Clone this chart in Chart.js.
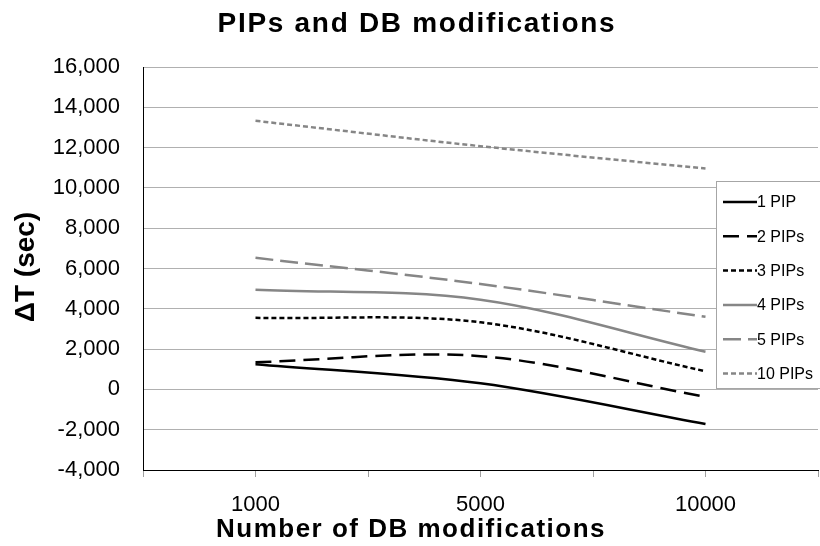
<!DOCTYPE html>
<html>
<head>
<meta charset="utf-8">
<title>PIPs and DB modifications</title>
<script src="https://cdn.jsdelivr.net/npm/chart.js@4.4.1/dist/chart.umd.min.js"></script>
<style>
  html, body { margin: 0; padding: 0; background: #fff; }
  canvas { display: block; }
</style>
</head>
<body>
<canvas id="chart" width="820" height="546"></canvas>
<script>
const categories = ['1000', '5000', '10000'];
const yTicks = [-4000, -2000, 0, 2000, 4000, 6000, 8000, 10000, 12000, 14000, 16000];

const pip1 = [1250, 300, -1720];
const pip2 = [1350, 1650, -370];
const pip3 = [3550, 3330, 900];
const pip4 = [4950, 4450, 1870];
const pip5 = [6530, 5230, 3600];
const pip10 = [13330, 12070, 10960];

const seriesNames = ['1 PIP', '2 PIPs', '3 PIPs', '4 PIPs', '5 PIPs', '10 PIPs'];

const chartTitle = 'PIPs and DB modifications';
const xTitle = 'Number of DB modifications';
const yTitle = '\u0394T (sec)';

const FONT = '"Liberation Sans", Arial, sans-serif';
const BLACK = '#000000';
const GREY = '#868686';

function series(label, values, color, dash) {
  return {
    label: label,
    data: values.map((v, i) => ({ x: i, y: v })),
    borderColor: color,
    backgroundColor: color,
    borderDash: dash,
    borderWidth: 2.5,
    pointRadius: 0,
    pointHoverRadius: 0,
    tension: 0.33,
    fill: false
  };
}

// titles and the boxed legend on the right
const decorations = {
  id: 'decorations',
  afterDraw(chart) {
    const ctx = chart.ctx;
    ctx.save();
    ctx.fillStyle = BLACK;
    ctx.textAlign = 'center';
    ctx.textBaseline = 'alphabetic';

    ctx.font = 'bold 28px ' + FONT;
    ctx.letterSpacing = '1.7px';
    ctx.fillText(chartTitle, 417, 32);

    ctx.font = 'bold 26px ' + FONT;
    ctx.letterSpacing = '1.5px';
    ctx.fillText(xTitle, 411, 537);

    ctx.font = 'bold 28px ' + FONT;
    ctx.letterSpacing = '0px';
    ctx.translate(34, 267);
    ctx.rotate(-Math.PI / 2);
    ctx.fillText(yTitle, 0, 0);
    ctx.restore();

    // legend
    ctx.save();
    ctx.fillStyle = '#ffffff';
    ctx.fillRect(716, 181, 110, 207);
    ctx.strokeStyle = '#a6a6a6';
    ctx.lineWidth = 1;
    ctx.strokeRect(716.5, 181.5, 110, 207);

    ctx.font = '16px ' + FONT;
    ctx.textAlign = 'left';
    ctx.textBaseline = 'middle';
    chart.data.datasets.forEach((ds, i) => {
      const y = 202 + i * 34.3;
      ctx.strokeStyle = ds.borderColor;
      ctx.lineWidth = ds.borderWidth;
      ctx.setLineDash(ds.borderDash);
      ctx.beginPath();
      ctx.moveTo(723, y);
      ctx.lineTo(757, y);
      ctx.stroke();
      ctx.fillStyle = BLACK;
      ctx.fillText(ds.label, 757, y + 1);
    });
    ctx.restore();
  }
};

new Chart(document.getElementById('chart'), {
  type: 'line',
  data: {
    datasets: [
      series(seriesNames[0], pip1, BLACK, []),
      series(seriesNames[1], pip2, BLACK, [16, 8]),
      series(seriesNames[2], pip3, BLACK, [5, 3]),
      series(seriesNames[3], pip4, GREY, []),
      series(seriesNames[4], pip5, GREY, [18, 7]),
      series(seriesNames[5], pip10, GREY, [5, 3])
    ]
  },
  options: {
    responsive: false,
    animation: false,
    devicePixelRatio: 1,
    layout: { padding: { top: 67, right: 2, left: 0, bottom: 0 } },
    plugins: {
      legend: { display: false },
      title: { display: false },
      tooltip: { enabled: false }
    },
    scales: {
      x: {
        type: 'linear',
        min: -0.5,
        max: 2.5,
        afterFit(scale) {
          scale.height = 76;
          scale.paddingLeft = 0;
          scale.paddingRight = 0;
        },
        border: { display: true, color: BLACK, width: 1 },
        grid: { drawOnChartArea: false, drawTicks: true, tickLength: 7, color: '#a0a0a0' },
        ticks: {
          stepSize: 0.5,
          autoSkip: false,
          maxRotation: 0,
          padding: 15,
          color: BLACK,
          font: { family: FONT, size: 22 },
          callback: (v) => Number.isInteger(v) ? categories[v] : ''
        }
      },
      y: {
        min: yTicks[0],
        max: yTicks[yTicks.length - 1],
        afterFit(scale) { scale.width = 143; },
        afterBuildTicks(scale) { scale.ticks = yTicks.map(v => ({ value: v })); },
        border: { display: true, color: BLACK, width: 1 },
        grid: { drawTicks: false, color: '#b0b0b0', lineWidth: 1 },
        ticks: {
          padding: 23,
          color: BLACK,
          font: { family: FONT, size: 22 },
          callback: (v) => v.toLocaleString('en-US')
        }
      }
    }
  },
  plugins: [decorations]
});
</script>
</body>
</html>
